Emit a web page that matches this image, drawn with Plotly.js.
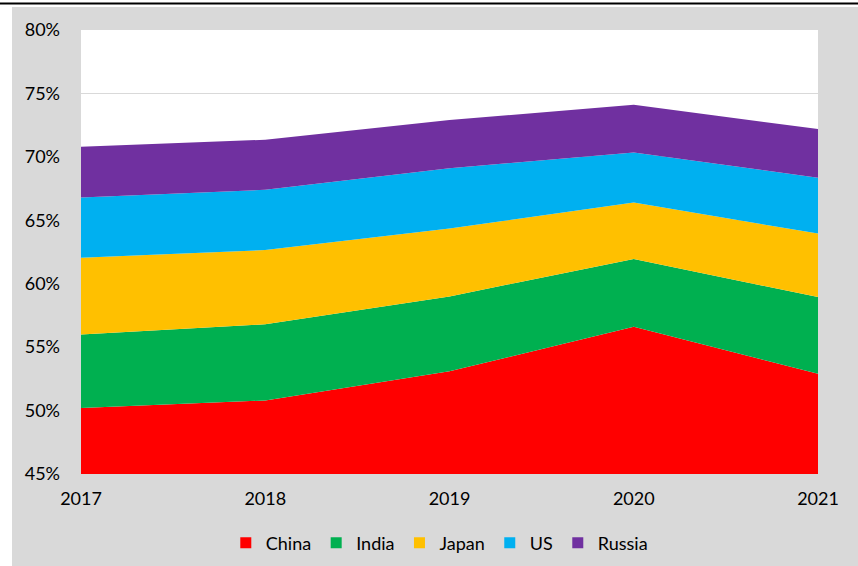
<!DOCTYPE html>
<html>
<head>
<meta charset="utf-8">
<script src="https://cdn.plot.ly/plotly-3.0.1.min.js"></script>
<style>html,body{margin:0;padding:0;background:#fff;}#chart{width:858px;height:566px;}</style>
</head>
<body>
<div id="chart"></div>
<script>
const years = [2017, 2018, 2019, 2020, 2021];
const seriesNames = ["China", "India", "Japan", "US", "Russia"];
const china  = [50.2, 50.8, 53.1, 56.6, 52.9];
const india  = [5.8, 6.0, 5.9, 5.35, 6.05];
const japan  = [6.05, 5.85, 5.35, 4.45, 5.0];
const us     = [4.75, 4.75, 4.75, 3.95, 4.4];
const russia = [4.0, 3.95, 3.8, 3.75, 3.85];
const colors = ["#ff0000", "#00b050", "#ffc000", "#00b0f0", "#7030a0"];

const values = [china, india, japan, us, russia];
const traces = values.map((v, i) => ({
  x: years,
  y: v.map(d => d / 100),
  name: seriesNames[i],
  type: "scatter",
  mode: "lines",
  stackgroup: "one",
  line: {width: 0, color: colors[i]},
  fillcolor: colors[i],
  showlegend: false,
  hoverinfo: "x+y+name"
}));
// legend entries as square markers
seriesNames.forEach((n, i) => {
  traces.push({
    x: [null], y: [null], name: n, type: "scatter", mode: "markers",
    marker: {symbol: "square", size: 11, color: colors[i]},
    showlegend: true
  });
});

const font = {family: "Lato, 'Open Sans', sans-serif", size: 18, color: "#000"};
const layout = {
  width: 858, height: 566,
  paper_bgcolor: "#d9d9d9",
  plot_bgcolor: "#ffffff",
  margin: {l: 81, r: 40, t: 30, b: 92},
  font: font,
  xaxis: {
    range: [2017, 2021], tickvals: years, ticktext: years.map(String),
    showgrid: false, zeroline: false, showline: false, ticks: "",
    ticklabelstandoff: 12, fixedrange: true
  },
  yaxis: {
    range: [0.45, 0.80], dtick: 0.05, tickformat: ".0%",
    showgrid: true, gridcolor: "#d9d9d9", gridwidth: 1,
    zeroline: false, showline: false, ticks: "",
    ticklabelstandoff: 20, fixedrange: true
  },
  showlegend: true,
  legend: {
    orientation: "h", xref: "container", yref: "container",
    x: 0.512, xanchor: "center", y: 0.0406, yanchor: "middle",
    bgcolor: "rgba(0,0,0,0)", font: font, itemwidth: 30, traceorder: "normal"
  },
  shapes: [
    {type: "rect", xref: "paper", yref: "paper", xsizemode: "pixel", ysizemode: "pixel",
     xanchor: 0, yanchor: 1, x0: -81, x1: -69, y0: 30, y1: -600,
     fillcolor: "#ffffff", line: {width: 0}},
    {type: "rect", xref: "paper", yref: "paper", xsizemode: "pixel", ysizemode: "pixel",
     xanchor: 0, yanchor: 1, x0: -81, x1: 800, y0: 30, y1: 23,
     fillcolor: "#ffffff", line: {width: 0}},
    {type: "rect", xref: "paper", yref: "paper", xsizemode: "pixel", ysizemode: "pixel",
     xanchor: 0, yanchor: 1, x0: -81, x1: 800, y0: 27.5, y1: 25.5,
     fillcolor: "#000000", line: {width: 0}}
  ]
};
Plotly.newPlot("chart", traces, layout, {displayModeBar: false, staticPlot: true});
</script>
</body>
</html>
